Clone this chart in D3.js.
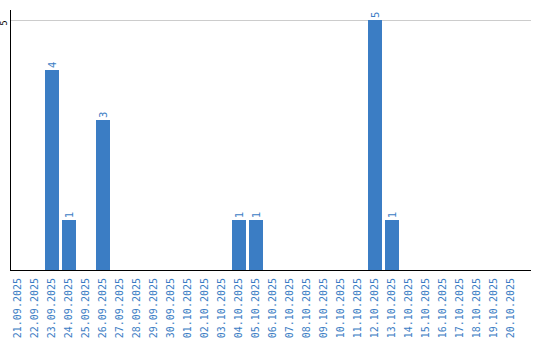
<!DOCTYPE html>
<html><head><meta charset="utf-8">
<script src="https://cdn.jsdelivr.net/npm/d3@7"></script>
<style>body{margin:0;background:#fff}svg{display:block}</style>
</head><body>
<script>
const dates = ["21.09.2025","22.09.2025","23.09.2025","24.09.2025","25.09.2025","26.09.2025","27.09.2025","28.09.2025","29.09.2025","30.09.2025","01.10.2025","02.10.2025","03.10.2025","04.10.2025","05.10.2025","06.10.2025","07.10.2025","08.10.2025","09.10.2025","10.10.2025","11.10.2025","12.10.2025","13.10.2025","14.10.2025","15.10.2025","16.10.2025","17.10.2025","18.10.2025","19.10.2025","20.10.2025"];
const counts = [0,0,4,1,0,3,0,0,0,0,0,0,0,1,1,0,0,0,0,0,0,5,1,0,0,0,0,0,0,0];
const yTicks = [5];

const W = 540, H = 340;
const color = "#3b7dc4";
const svg = d3.select("body").append("svg").attr("width", W).attr("height", H);

const x = d3.scaleBand().domain(dates).range([11, 518]).paddingInner(3/17).paddingOuter(0);
const y = d3.scaleLinear().domain([0, 5]).range([270, 20]);

// gridlines
svg.append("g").selectAll("line").data(yTicks).join("line")
  .attr("x1", 10).attr("x2", 531)
  .attr("y1", d => y(d) + 0.5).attr("y2", d => y(d) + 0.5)
  .attr("stroke", "#cccccc").attr("stroke-width", 1);

// y tick labels
svg.append("g").selectAll("text").data(yTicks).join("text")
  .attr("transform", d => `translate(6.5,${y(d) + 3}) rotate(-90)`)
  .attr("text-anchor", "middle")
  .attr("font-family", "DejaVu Sans, sans-serif").attr("font-size", 8)
  .attr("fill", "#000").text(d => d);

// bars
const data = dates.map((d, i) => ({d, v: counts[i]})).filter(o => o.v > 0);
svg.append("g").selectAll("rect").data(data).join("rect")
  .attr("x", o => x(o.d)).attr("width", x.bandwidth())
  .attr("y", o => y(o.v)).attr("height", o => y(0) - y(o.v))
  .attr("fill", color);

// value labels
svg.append("g").selectAll("text").data(data).join("text")
  .attr("transform", o => `translate(${x(o.d) + x.bandwidth()/2 + 3.5},${y(o.v) - 2}) rotate(-90)`)
  .attr("text-anchor", "start")
  .attr("font-family", "DejaVu Sans, sans-serif").attr("font-size", 10)
  .attr("fill", color).text(o => o.v);

// axes lines
svg.append("line").attr("x1", 10.5).attr("x2", 10.5).attr("y1", 10).attr("y2", 270.5)
  .attr("stroke", "#000").attr("stroke-width", 1);
svg.append("line").attr("x1", 10).attr("x2", 531).attr("y1", 270.5).attr("y2", 270.5)
  .attr("stroke", "#000").attr("stroke-width", 1);

// x labels
svg.append("g").selectAll("text").data(dates).join("text")
  .attr("transform", d => `translate(${x(d) + x.bandwidth()/2 + 2.5},278) rotate(-90)`)
  .attr("text-anchor", "end")
  .attr("font-family", "DejaVu Sans Mono, monospace").attr("font-size", 10)
  .attr("fill", color).text(d => d);
</script>
</body></html>
